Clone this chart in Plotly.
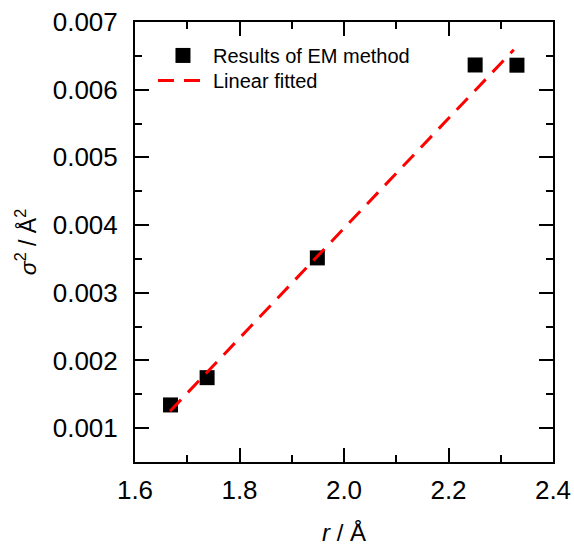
import plotly.graph_objects as go

r_vals = [1.668, 1.738, 1.949, 2.251, 2.331]
sigma2_vals = [0.001343, 0.001746, 0.003515, 0.006365, 0.006362]
fit_x = [1.667, 2.325]
fit_y = [0.00125, 0.00659]
x_ticks = [1.6, 1.8, 2.0, 2.2, 2.4]
y_ticks = [0.001, 0.002, 0.003, 0.004, 0.005, 0.006, 0.007]

FONT = "Liberation Sans, Arial, sans-serif"

fig = go.Figure()
fig.add_trace(go.Scatter(
    x=r_vals, y=sigma2_vals, mode="markers", name="Results of EM method",
    marker=dict(symbol="square", size=15, color="black"), legend="legend",
))
fig.add_trace(go.Scatter(
    x=fit_x, y=fit_y, mode="lines", name="Linear fitted",
    line=dict(color="#ff0000", width=3, dash="16px,10px"), legend="legend2",
))

axis_common = dict(
    showgrid=False, zeroline=False, showline=True, linecolor="black", linewidth=2,
    mirror="allticks", ticks="inside", ticklen=14, tickwidth=2, tickcolor="black",
    tickfont=dict(family=FONT, size=26, color="black"), automargin=False,
)
fig.update_xaxes(
    range=[1.6, 2.4], tickvals=x_ticks, ticktext=[f"{v:.1f}" for v in x_ticks],
    minor=dict(ticks="inside", ticklen=7, tickwidth=2, tickcolor="black", dtick=0.1, tick0=1.6),
    ticklabelstandoff=4,
    title=dict(text="<i>r</i> / Å", font=dict(family=FONT, size=24, color="black"), standoff=20),
    **axis_common,
)
fig.update_yaxes(
    range=[0.0005, 0.007], tickvals=y_ticks, ticktext=[f"{v:.3f}" for v in y_ticks],
    minor=dict(ticks="inside", ticklen=7, tickwidth=2, tickcolor="black", dtick=0.0005, tick0=0.0005),
    ticklabelstandoff=10,
    title=dict(text="<i>σ</i><sup>2</sup> / Å<sup>2</sup>", font=dict(family=FONT, size=23, color="black"), standoff=10),
    **axis_common,
)
legend_common = dict(
    xanchor="left", yanchor="middle", bgcolor="rgba(0,0,0,0)",
    font=dict(family=FONT, size=20, color="black"), itemwidth=50,
)
fig.update_layout(
    width=574, height=549,
    margin=dict(l=135, r=21, t=22, b=87),
    plot_bgcolor="white", paper_bgcolor="white",
    showlegend=True,
    legend=dict(x=0.043, y=0.924, **legend_common),
    legend2=dict(x=0.043, y=0.867, **legend_common),
)
fig.write_html("out.html")
